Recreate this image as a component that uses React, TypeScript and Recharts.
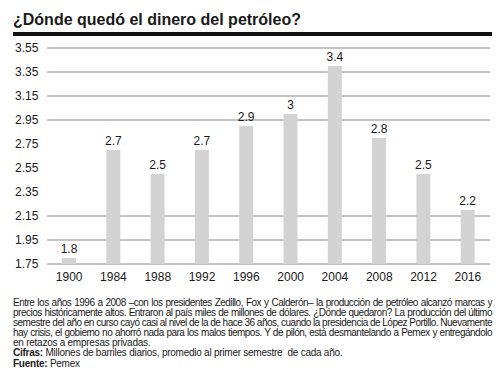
import React from "react";
import { BarChart, Bar, XAxis, YAxis, CartesianGrid, LabelList } from "recharts";

const years = ["1900", "1984", "1988", "1992", "1996", "2000", "2004", "2008", "2012", "2016"];
const production = [1.8, 2.7, 2.5, 2.7, 2.9, 3, 3.4, 2.8, 2.5, 2.2];
const yTicks = [1.75, 1.95, 2.15, 2.35, 2.55, 2.75, 2.95, 3.15, 3.35, 3.55];
const gridValues = [1.95, 2.15, 2.95, 3.15, 3.35];

const noteLines = [
  "Entre los años 1996 a 2008 –con los presidentes Zedillo, Fox y Calderón– la producción de petróleo alcanzó marcas y",
  "precios históricamente altos. Entraron al país miles de millones de dólares. ¿Dónde quedaron? La producción del último",
  "semestre del año en curso cayó casi al nivel de la de hace 36 años, cuando la presidencia de López Portillo. Nuevamente",
  "hay crisis, el gobierno no ahorró nada para los malos tiempos. Y de pilón, está desmantelando a Pemex y entregándolo",
  "en retazos a empresas privadas.",
];

const data = years.map((y, i) => ({ year: y, value: production[i] }));

const FONT = '"Liberation Sans", Arial, Helvetica, sans-serif';

const YTick = (props: any) => {
  const { y, payload } = props;
  return (
    <text x={15} y={y} dy="0.3em" textAnchor="start" fontSize={12} fill="#1a1a1a" fontFamily={FONT}>
      {Number(payload.value).toFixed(2)}
    </text>
  );
};

const looseLine = { letterSpacing: "-0.25px", wordSpacing: "0px", whiteSpace: "nowrap" as const };

export default function App() {
  return (
    <div style={{ position: "absolute", left: 0, top: 0, width: 500, height: 378, background: "#fff", fontFamily: FONT, color: "#1a1a1a" }}>
      <div style={{ position: "absolute", left: 13, top: 10, fontSize: 16, fontWeight: "bold", lineHeight: "20px", whiteSpace: "nowrap" }}>
        ¿Dónde quedó el dinero del petróleo?
      </div>
      <div style={{ position: "absolute", left: 13, top: 32, width: 479, height: 4, background: "#111" }} />
      <div style={{ position: "absolute", left: 0, top: 0 }}>
        <BarChart width={500} height={290} data={data} margin={{ top: 48, right: 10, bottom: 0, left: 13 }}>
          <CartesianGrid vertical={false} stroke="#8a8a8a" strokeWidth={1} yAxisId="grid" />
          <YAxis
            yAxisId="grid"
            domain={[1.75, 3.55]}
            ticks={gridValues}
            hide
            allowDataOverflow
          />
          <YAxis
            domain={[1.75, 3.55]}
            ticks={yTicks}
            width={34}
            axisLine={false}
            tickLine={false}
            tick={<YTick />}
            allowDataOverflow
          />
          <XAxis
            dataKey="year"
            axisLine={false}
            tickLine={false}
            height={26}
            interval={0}
            tick={{ fontSize: 12, fill: "#1a1a1a", fontFamily: FONT }}
          />
          <Bar dataKey="value" fill="#d3d3d3" barSize={14} isAnimationActive={false}>
            <LabelList dataKey="value" position="top" offset={5} fontSize={12} fill="#1a1a1a" fontFamily={FONT} />
          </Bar>
        </BarChart>
      </div>
      <div style={{ position: "absolute", left: 13, top: 298, width: 479, fontSize: 10, lineHeight: "10.1px" }}>
        {noteLines.map((line, i) =>
          i < noteLines.length - 1 ? (
            <div
              key={i}
              style={{
                whiteSpace: "nowrap",
                letterSpacing: "-0.5px",
                wordSpacing: "-1.2px",
                textAlign: "justify",
                textAlignLast: "justify",
              } as any}
            >
              {line}
            </div>
          ) : (
            <div key={i} style={looseLine}>
              {line}
            </div>
          )
        )}
        <div style={looseLine}>
          <b>Cifras:</b> Millones de barriles diarios, promedio al primer semestre&nbsp; de cada año.
        </div>
        <div style={looseLine}>
          <b>Fuente:</b> Pemex
        </div>
      </div>
    </div>
  );
}
